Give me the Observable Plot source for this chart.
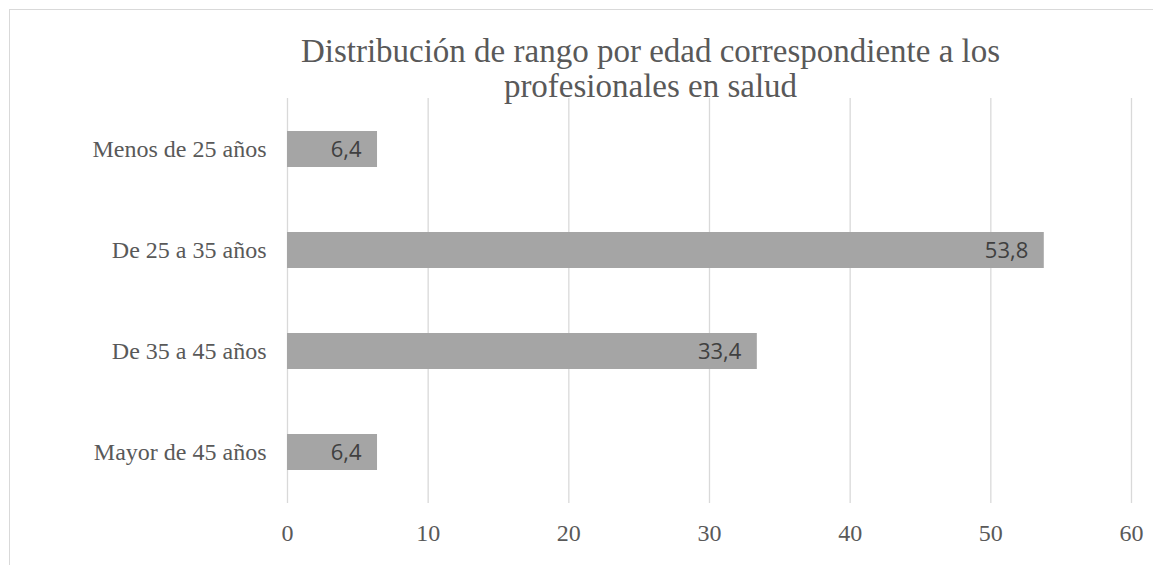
<!DOCTYPE html>
<html>
<head>
<meta charset="utf-8">
<script src="https://cdn.jsdelivr.net/npm/d3@7"></script>
<script src="https://cdn.jsdelivr.net/npm/@observablehq/plot@0.6"></script>
<style>
  html, body { margin: 0; padding: 0; background: #fff; overflow: hidden; }
  #wrap { position: relative; width: 1153px; height: 565px; }
  #frame { position: absolute; left: 9px; top: 9px; width: 1200px; height: 600px; border: 1px solid #d9d9d9; box-sizing: border-box; }
  #chart { position: absolute; left: 0; top: 0; }
</style>
</head>
<body>
<div id="wrap"><div id="frame"></div><div id="chart"></div></div>
<script>
const categories = ["Menos de 25 años", "De 25 a 35 años", "De 35 a 45 años", "Mayor de 45 años"];
const values = [6.4, 53.8, 33.4, 6.4];
const xTicks = [0, 10, 20, 30, 40, 50, 60];
const titleText = "Distribución de rango por edad correspondiente a los\nprofesionales en salud";

const data = categories.map((c, i) => ({category: c, value: values[i]}));
const fmt = v => v.toFixed(1).replace(".", ",");

const plot = Plot.plot({
  width: 1153,
  height: 565,
  marginLeft: 287,
  marginRight: 22,
  marginTop: 98,
  marginBottom: 62,
  style: {background: "transparent", overflow: "visible"},
  x: {domain: [0, 60], ticks: xTicks, label: null},
  y: {domain: categories, label: null, paddingInner: 0.645, paddingOuter: 0.3225},
  marks: [
    Plot.gridX(xTicks, {stroke: "#d9d9d9", strokeOpacity: 1, strokeWidth: 1.3}),
    Plot.barX(data, {y: "category", x: "value", fill: "#a5a5a5"}),
    Plot.text(data, {y: "category", x: "value", text: d => fmt(d.value), textAnchor: "end", dx: -16,
      fill: "#404040", fontFamily: "Open Sans", fontSize: 22}),
    Plot.axisX(xTicks, {tickSize: 0, tickPadding: 20, fontFamily: "Liberation Serif", fontSize: 24, fill: "#595959", tickFormat: d => String(d)}),
    Plot.axisY({tickSize: 0, tickPadding: 21, fontFamily: "Liberation Serif", fontSize: 24, fill: "#595959"}),
    Plot.text([titleText], {frameAnchor: "top", lineAnchor: "top", dx: -59, dy: -61, lineHeight: 1.05,
      fontFamily: "Liberation Serif", fontSize: 33, fill: "#595959", textAnchor: "middle"})
  ]
});
document.getElementById("chart").appendChild(plot);
</script>
</body>
</html>
